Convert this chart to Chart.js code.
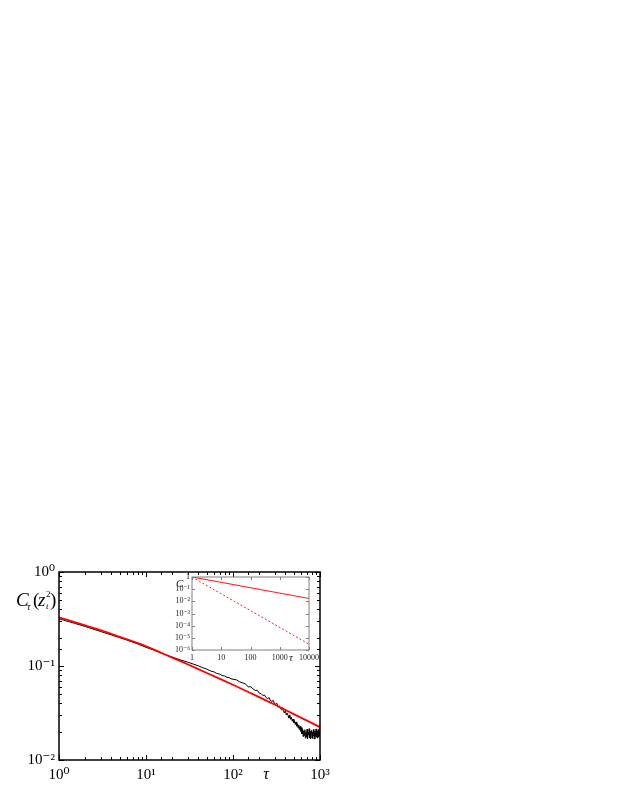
<!DOCTYPE html>
<html>
<head>
<meta charset="utf-8">
<script src="https://cdn.jsdelivr.net/npm/chart.js@4.4.1/dist/chart.umd.min.js"></script>
<style>
body { margin: 0; background: #fff; }
#wrap { position: relative; width: 623px; height: 806px; }
canvas { position: absolute; left: 0; top: 0; }
</style>
</head>
<body>
<div id="wrap">
  <canvas id="main" width="623" height="806"></canvas>
  <canvas id="inset" width="623" height="806"></canvas>
</div>
<script>
// measured correlation (black, noisy)
const blackTau = [1, 1.5, 2, 3, 4, 5, 6, 8, 10, 12, 15, 20, 25, 30, 35, 40, 45, 50, 55, 60, 65, 70, 75, 80, 85, 90, 95,
  100, 110, 120, 130, 140, 150, 160, 170, 180, 190, 200, 210, 220, 230, 240, 250, 260, 270, 280, 290,
  300, 310, 320, 330, 340, 350, 360, 370, 380, 390, 400, 410, 420, 430, 440, 450, 460, 470, 480, 490,
  500, 510, 520, 530, 540, 550, 560, 570, 580, 590, 600, 610, 620, 630, 640, 650, 660, 670, 680, 690,
  700, 710, 720, 730, 740, 750, 760, 770, 780, 790, 800, 810, 820, 830, 840, 850, 860, 870, 880, 890,
  900, 910, 920, 930, 940, 950, 960, 970, 980, 990, 1000];
const blackC = [0.318, 0.285, 0.263, 0.233, 0.214, 0.200, 0.189, 0.172, 0.158, 0.149, 0.137, 0.1245, 0.116, 0.110, 0.1048, 0.1003, 0.0958, 0.0928, 0.0886, 0.0869, 0.0834, 0.0821, 0.0792, 0.0784, 0.0758, 0.0753, 0.0729,
  0.0724, 0.0712, 0.0676, 0.0660, 0.0641, 0.0598, 0.0602, 0.0571, 0.0549, 0.0552, 0.0515, 0.0508, 0.0486, 0.0491, 0.0462, 0.0449, 0.0461, 0.0427, 0.0420, 0.0431,
  0.0398, 0.0392, 0.0401, 0.0364, 0.0377, 0.0352, 0.0343, 0.0361, 0.0329, 0.0317, 0.0338, 0.0301, 0.0315, 0.0296, 0.0279, 0.0302, 0.0271, 0.0284, 0.0258, 0.0273,
  0.0249, 0.0262, 0.0238, 0.0254, 0.0229, 0.0243, 0.0219, 0.0236, 0.0211, 0.0228, 0.0202, 0.0221, 0.0189, 0.0214, 0.0178, 0.0205, 0.0183, 0.0210, 0.0171, 0.0198,
  0.0177, 0.0212, 0.0169, 0.0196, 0.0184, 0.0215, 0.0172, 0.0201, 0.0168, 0.0193, 0.0207, 0.0174, 0.0199, 0.0170, 0.0211, 0.0182, 0.0195, 0.0167, 0.0203, 0.0179,
  0.0214, 0.0176, 0.0198, 0.0171, 0.0205, 0.0186, 0.0212, 0.0175, 0.0202, 0.0181, 0.0218];

// model curve (red)
const redTau = [1, 2, 3, 5, 10, 20, 30, 50, 100, 200, 300, 500, 1000];
const redC = [0.329, 0.270, 0.241, 0.204, 0.162, 0.123, 0.1045, 0.0843, 0.0631, 0.0466, 0.0389, 0.0308, 0.0224];

// inset: two power laws
const insetTau = [1, 10000];
const insetSolid = [1, 0.017];
const insetDashed = [1, 3e-6];

const mainXTicks = {1: '10\u2070', 10: '10\u00b9', 100: '10\u00b2', 1000: '10\u00b3'};
const mainYTicks = {0.01: '10\u207b\u00b2', 0.1: '10\u207b\u00b9', 1: '10\u2070'};
const insetXTicks = {1: '1', 10: '10', 100: '100', 1000: '1000', 10000: '10000'};
const insetYTicks = {1: '1', 0.1: '10\u207b\u00b9', 0.01: '10\u207b\u00b2', 0.001: '10\u207b\u00b3',
  0.0001: '10\u207b\u2074', 0.00001: '10\u207b\u2075', 0.000001: '10\u207b\u2076'};

function isMajor(v) {
  const l = Math.log10(v);
  return Math.abs(l - Math.round(l)) < 1e-6;
}
function tickLabel(map) {
  return function(v) {
    if (!isMajor(v)) return '';
    const k = Object.keys(map).find(key => Math.abs(Math.log10(+key) - Math.log10(v)) < 1e-6);
    return k !== undefined ? map[k] : '';
  };
}
function pairs(xs, ys) {
  return xs.map((x, i) => ({x: x, y: ys[i]}));
}

// box + inward ticks on all four sides
const frame = {
  id: 'frame',
  beforeDraw(chart, args, opts) {
    if (!opts.fill) return;
    const a = chart.chartArea, ctx = chart.ctx;
    ctx.save();
    ctx.fillStyle = opts.fill;
    ctx.fillRect(a.left, a.top, a.right - a.left, a.bottom - a.top);
    ctx.restore();
  },
  afterDraw(chart, args, opts) {
    const {ctx, chartArea: a, scales} = chart;
    ctx.save();
    ctx.strokeStyle = opts.color;
    ctx.lineWidth = opts.tickWidth;
    ctx.beginPath();
    scales.x.ticks.forEach(t => {
      const len = isMajor(t.value) ? opts.major : opts.minor;
      if (!len) return;
      const px = Math.round(scales.x.getPixelForValue(t.value)) + 0.5;
      ctx.moveTo(px, a.bottom); ctx.lineTo(px, a.bottom - len);
      ctx.moveTo(px, a.top); ctx.lineTo(px, a.top + len);
    });
    scales.y.ticks.forEach(t => {
      const len = isMajor(t.value) ? opts.major : opts.minor;
      if (!len) return;
      const py = Math.round(scales.y.getPixelForValue(t.value)) + 0.5;
      ctx.moveTo(a.left, py); ctx.lineTo(a.left + len, py);
      ctx.moveTo(a.right, py); ctx.lineTo(a.right - len, py);
    });
    ctx.stroke();
    ctx.lineWidth = opts.width;
    ctx.strokeRect(a.left, a.top, a.right - a.left, a.bottom - a.top);
    ctx.restore();
  }
};

// free text pieces (axis titles with sub/superscripts)
const texts = {
  id: 'texts',
  afterDraw(chart, args, opts) {
    const ctx = chart.ctx;
    ctx.save();
    ctx.fillStyle = opts.color || '#000';
    ctx.textBaseline = 'alphabetic';
    (opts.items || []).forEach(it => {
      ctx.font = it.font;
      ctx.textAlign = it.align || 'left';
      ctx.fillText(it.text, it.x, it.y);
    });
    ctx.restore();
  }
};

const serif = 'Liberation Serif, DejaVu Serif, serif';

new Chart(document.getElementById('main'), {
  type: 'line',
  data: {
    datasets: [
      {label: 'model', data: pairs(redTau, redC), borderColor: '#ff0000', borderWidth: 1.8, pointRadius: 0, tension: 0.3},
      {label: 'data', data: pairs(blackTau, blackC), borderColor: '#000000', borderWidth: 1, pointRadius: 0, tension: 0}
    ]
  },
  options: {
    responsive: false,
    animation: false,
    events: [],
    layout: {padding: {left: 0, top: 572, right: 303, bottom: 0}},
    plugins: {
      legend: {display: false},
      tooltip: {enabled: false},
      frame: {color: '#000', width: 1.5, tickWidth: 1, major: 5, minor: 3},
      texts: {items: [
        {text: 'C', x: 16, y: 606, font: 'italic 19px ' + serif},
        {text: '\u03c4', x: 27, y: 610, font: 'italic 10px ' + serif},
        {text: '(', x: 33, y: 606, font: '19px ' + serif},
        {text: 'z', x: 38, y: 606, font: 'italic 19px ' + serif},
        {text: '2', x: 46, y: 597, font: '9px ' + serif},
        {text: 't', x: 46, y: 609, font: 'italic 9px ' + serif},
        {text: ')', x: 50, y: 606, font: '19px ' + serif},
        {text: '\u03c4', x: 266, y: 779, font: 'italic 16px ' + serif, align: 'center'}
      ]}
    },
    scales: {
      x: {
        type: 'logarithmic', min: 1, max: 1000,
        grid: {display: false, drawTicks: false},
        border: {display: false},
        afterFit: s => { s.height = 46; },
        ticks: {autoSkip: false, maxRotation: 0, padding: 6, color: '#000',
          font: {family: serif, size: 15}, callback: tickLabel(mainXTicks)}
      },
      y: {
        type: 'logarithmic', min: 0.01, max: 1,
        grid: {display: false, drawTicks: false},
        border: {display: false},
        afterFit: s => { s.width = 59; },
        ticks: {autoSkip: false, padding: 4, color: '#000',
          font: {family: serif, size: 15}, callback: tickLabel(mainYTicks)}
      }
    }
  },
  plugins: [frame, texts]
});

new Chart(document.getElementById('inset'), {
  type: 'line',
  data: {
    datasets: [
      {label: 'slow', data: pairs(insetTau, insetSolid), borderColor: '#ff2020', borderWidth: 1.2, pointRadius: 0},
      {label: 'fast', data: pairs(insetTau, insetDashed), borderColor: '#ff2020', borderWidth: 1, borderDash: [2, 2], pointRadius: 0}
    ]
  },
  options: {
    responsive: false,
    animation: false,
    events: [],
    layout: {padding: {left: 0, top: 577, right: 314, bottom: 0}},
    plugins: {
      legend: {display: false},
      tooltip: {enabled: false},
      frame: {color: '#808080', width: 1, tickWidth: 1, major: 3, minor: 0, fill: '#fff'},
      texts: {color: '#222', items: [
        {text: 'C', x: 176, y: 587, font: 'italic 11px ' + serif},
        {text: '\u03c4', x: 291, y: 661, font: 'italic 11px ' + serif, align: 'center'}
      ]}
    },
    scales: {
      x: {
        type: 'logarithmic', min: 1, max: 10000,
        grid: {display: false, drawTicks: false},
        border: {display: false},
        afterFit: s => { s.height = 156; },
        ticks: {autoSkip: false, maxRotation: 0, padding: 3, color: '#222',
          font: {family: serif, size: 8}, callback: tickLabel(insetXTicks)}
      },
      y: {
        type: 'logarithmic', min: 0.000001, max: 1,
        grid: {display: false, drawTicks: false},
        border: {display: false},
        afterFit: s => { s.width = 192; },
        ticks: {autoSkip: false, padding: 2, color: '#222',
          font: {family: serif, size: 8}, callback: tickLabel(insetYTicks)}
      }
    }
  },
  plugins: [frame, texts]
});
</script>
</body>
</html>
